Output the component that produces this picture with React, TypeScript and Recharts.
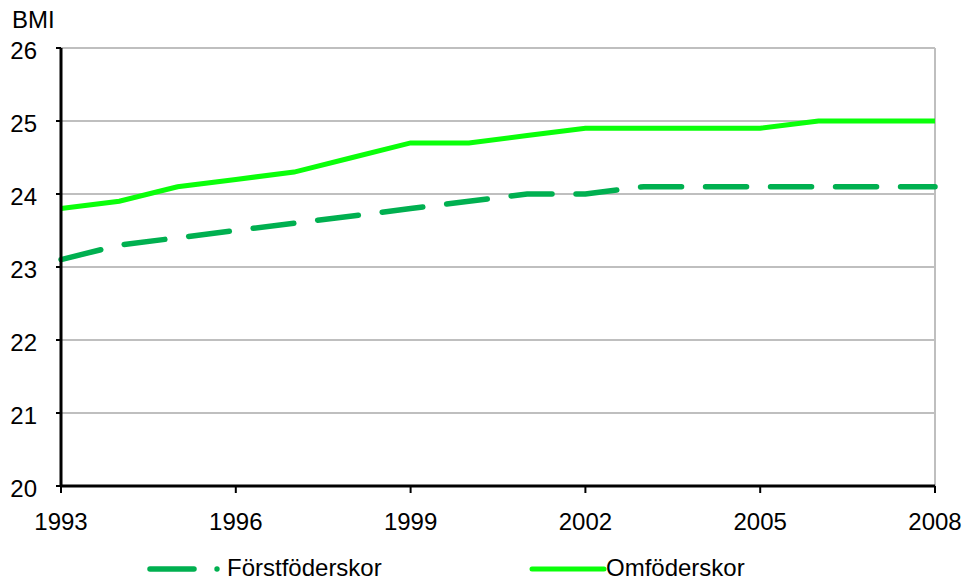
import React from "react";
import { LineChart, Line, XAxis, YAxis, CartesianGrid, ReferenceLine } from "recharts";

// Average BMI per year
const years = [1993, 1994, 1995, 1996, 1997, 1998, 1999, 2000, 2001, 2002, 2003, 2004, 2005, 2006, 2007, 2008];
const forstfoderskor = [23.1, 23.3, 23.4, 23.5, 23.6, 23.7, 23.8, 23.9, 24.0, 24.0, 24.1, 24.1, 24.1, 24.1, 24.1, 24.1];
const omfoderskor = [23.8, 23.9, 24.1, 24.2, 24.3, 24.5, 24.7, 24.7, 24.8, 24.9, 24.9, 24.9, 24.9, 25.0, 25.0, 25.0];
const xTicks = [1993, 1996, 1999, 2002, 2005, 2008];
const yTicks = [20, 21, 22, 23, 24, 25, 26];

const data = years.map((year, i) => ({
  year,
  forst: forstfoderskor[i],
  om: omfoderskor[i],
}));

const DARK = "#00B050";
const LIGHT = "#0AFF0A";
const FONT = "'Liberation Sans', Arial, sans-serif";

export default function App() {
  return (
    <div style={{ position: "absolute", left: 0, top: 0, width: 965, height: 581, background: "#fff", fontFamily: FONT, overflow: "hidden" }}>
      <LineChart width={965} height={548} data={data} margin={{ top: 48, right: 30, bottom: 0, left: 0 }}>
        <CartesianGrid vertical={false} stroke="#BFBFBF" strokeWidth={2} />
        <ReferenceLine x={2008} stroke="#BFBFBF" strokeWidth={2} ifOverflow="visible" />
        <XAxis
          dataKey="year"
          type="number"
          domain={[1993, 2008]}
          ticks={xTicks}
          height={62}
          axisLine={{ stroke: "#000", strokeWidth: 3 }}
          tickLine={{ stroke: "#000", strokeWidth: 2 }}
          tickSize={7}
          tickMargin={20}
          tick={{ fill: "#000", fontSize: 24, fontFamily: FONT }}
        />
        <YAxis
          type="number"
          domain={[20, 26]}
          ticks={yTicks}
          width={61}
          interval={0}
          axisLine={{ stroke: "#000", strokeWidth: 3 }}
          tickLine={{ stroke: "#000", strokeWidth: 2 }}
          tickSize={5}
          tickMargin={19}
          tick={{ fill: "#000", fontSize: 24, fontFamily: FONT, dy: 2 }}
        />
        <Line
          dataKey="om"
          stroke={LIGHT}
          strokeWidth={5}
          dot={false}
          isAnimationActive={false}
        />
        <Line
          dataKey="forst"
          stroke={DARK}
          strokeWidth={5.5}
          strokeDasharray="41 24"
          strokeLinecap="round"
          dot={false}
          isAnimationActive={false}
        />
        <text x={12} y={28} fontSize={24} fontFamily={FONT} fill="#000">BMI</text>
      </LineChart>
      <svg width={965} height={32} style={{ position: "absolute", left: 0, top: 549 }}>
        <line x1={150} y1={20} x2={194} y2={20} stroke={DARK} strokeWidth={5.5} strokeLinecap="round" />
        <circle cx={217} cy={20} r={2.7} fill={DARK} />
        <text x={227} y={27} fontSize={24} fontFamily={FONT} fill="#000">Förstföderskor</text>
        <line x1={532} y1={20} x2={604} y2={20} stroke={LIGHT} strokeWidth={5} strokeLinecap="round" />
        <text x={606} y={27} fontSize={24} fontFamily={FONT} fill="#000">Omföderskor</text>
      </svg>
    </div>
  );
}
